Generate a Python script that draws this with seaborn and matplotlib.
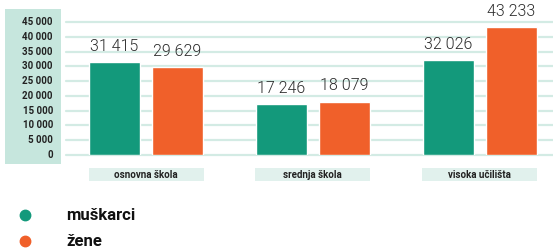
import numpy as np
import pandas as pd
import matplotlib
matplotlib.use('Agg')
import matplotlib.pyplot as plt
import seaborn as sns
from matplotlib.patches import Rectangle
from matplotlib.lines import Line2D
import matplotlib.transforms as mtransforms

categories = ['osnovna škola', 'srednja škola', 'visoka učilišta']
series_names = ['muškarci', 'žene']
muskarci = [31415, 17246, 32026]
zene = [29629, 18079, 43233]
y_ticks = [0, 5000, 10000, 15000, 20000, 25000, 30000, 35000, 40000, 45000]

GREEN = '#13997b'
ORANGE = '#f0602a'
PANEL = '#c6e6dd'
GRID = '#d3ebe4'
CATBOX = '#e1f1ed'


def fmt(v):
    return f"{v:,}".replace(',', ' ')


sns.set_theme(style='white')
plt.rcParams['font.family'] = ['Roboto', 'DejaVu Sans']

W, H = 553, 248
fig = plt.figure(figsize=(W / 100, H / 100), dpi=100)
fig.patch.set_facecolor('white')

# y label panel
fig.patches.append(Rectangle((5 / W, (H - 164) / H), 56 / W, 155 / H,
                             transform=fig.transFigure, facecolor=PANEL,
                             edgecolor='none', zorder=-5))

ax = fig.add_axes([66 / W, (H - 155) / H, (553 - 66) / W, 133 / H])
ax.set_facecolor('none')

df = pd.DataFrame({
    'cat': categories * 2,
    'spol': [series_names[0]] * 3 + [series_names[1]] * 3,
    'val': muskarci + zene,
})

sns.barplot(data=df, x='cat', y='val', hue='spol', palette=[GREEN, ORANGE],
            width=0.756, gap=0.19, saturation=1, legend=False, ax=ax,
            errorbar=None)
for p in ax.patches:
    p.set_zorder(3)

ax.set_xlim(-0.48, 2.44)
ax.set_ylim(0, 45000)
for s in ax.spines.values():
    s.set_visible(False)
ax.set_xticks([])
ax.set_yticks([])
ax.set_xlabel('')
ax.set_ylabel('')

for t in y_ticks:
    ax.axhline(t, color=GRID, lw=1.6, zorder=1, clip_on=False)

for cont in ax.containers:
    vals = [b.get_height() for b in cont]
    ax.bar_label(cont, labels=[fmt(int(round(v))) for v in vals], padding=6,
                 fontsize=11.5, fontweight=300, color='#2b2b2b', zorder=5)

# y tick labels on panel
trans_y = mtransforms.blended_transform_factory(fig.transFigure, ax.transData)
for t in y_ticks:
    fig.text(53 / W, t, fmt(t), transform=trans_y, ha='right', va='center',
             fontsize=7, fontweight='bold', color='#222222', zorder=10)

# category boxes
trans_x = mtransforms.blended_transform_factory(ax.transData, fig.transFigure)
for i, c in enumerate(categories):
    ax.add_patch(Rectangle((i - 0.345, (H - 181) / H), 0.69, 13 / H,
                           transform=trans_x, facecolor=CATBOX,
                           edgecolor='none', clip_on=False))
    ax.text(i, (H - 174.5) / H, c, transform=trans_x, ha='center', va='center',
            fontsize=7, fontweight='bold', color='#222222', clip_on=False)

# legend
for name, col, yp in zip(series_names, [GREEN, ORANGE], [215, 241]):
    fig.add_artist(Line2D([25 / W], [(H - yp) / H], marker='o', markersize=7.5,
                          color=col, linestyle='none', transform=fig.transFigure))
    fig.text(66 / W, (H - yp) / H, name, ha='left', va='center', fontsize=12,
             fontweight='bold', color='#111111')

fig.savefig('out.png', dpi=100)
